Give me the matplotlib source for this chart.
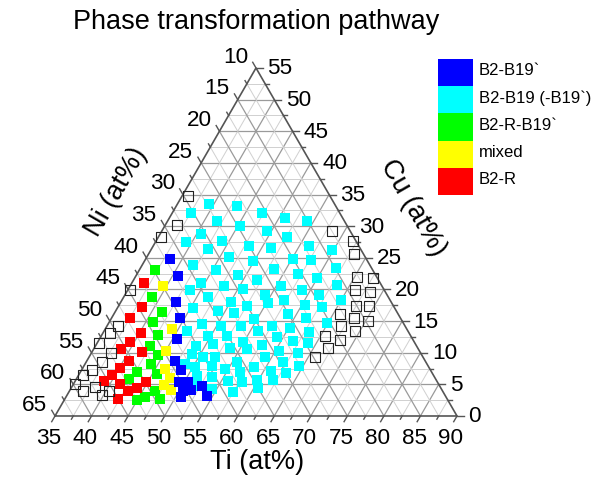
import numpy as np
import matplotlib
matplotlib.use('Agg')
import matplotlib.pyplot as plt
from matplotlib.patches import Rectangle

plt.rcParams['font.family'] = ['Liberation Sans', 'DejaVu Sans']

# ---------------- data (Ti at%, Cu at%; Ni = 100 - Ti - Cu) ----------------
blue_ti = [38.3, 40.8, 42.6, 44.4, 45.6, 47.1, 48.6, 49.3, 50.5, 50.5, 51.6, 52.8, 50.7, 54.2]
blue_cu = [24.8, 22.1, 18.0, 15.5, 12.2, 8.7, 7.3, 5.4, 5.4, 4.0, 4.1, 4.7, 3.0, 3.2]

cyan_ti = [39.3, 43.3, 37.6, 41.8, 45.3, 40.6, 44.0, 39.2, 48.1, 42.7,
           46.3, 41.9, 45.5, 48.9, 44.5, 47.9, 43.5, 50.7, 46.5, 50.1,
           45.3, 52.6, 49.0, 51.3, 47.9, 50.6, 46.4, 53.3, 49.6, 52.2,
           50.9, 53.6, 48.7, 56.0, 48.8, 50.6, 52.2, 55.6, 48.7, 50.3,
           52.5, 54.6, 56.8, 51.3, 53.4, 55.9, 57.9, 51.5, 54.3, 57.5,
           47.3, 50.8, 54.1, 49.4, 52.6, 51.3, 56.3, 59.8, 55.2, 57.7,
           49.8, 53.4, 57.0, 61.7, 59.9, 51.9, 55.7, 58.8, 63.2, 54.2,
           57.2, 61.6, 65.0, 55.2, 60.5, 62.9, 54.6, 57.6, 60.2, 61.6,
           64.9, 56.1, 59.1, 61.6, 63.1, 57.7, 60.5, 63.2, 63.9, 59.1,
           61.9, 64.4, 58.4, 61.0, 63.2, 59.8, 62.0, 60.6, 54.9, 58.8]
cyan_cu = [33.5, 33.2, 32.1, 30.8, 30.0, 28.8, 27.7, 27.5, 26.9, 26.4,
           25.1, 23.9, 23.1, 22.3, 21.0, 20.5, 19.9, 20.1, 18.8, 18.0,
           17.1, 17.4, 16.6, 16.3, 14.5, 14.2, 13.4, 14.2, 12.6, 12.6,
           11.4, 10.7, 11.1, 10.6, 9.8, 9.3, 9.3, 8.5, 8.2, 7.7,
           7.9, 7.4, 7.0, 6.3, 6.2, 5.5, 5.4, 4.7, 4.3, 3.8,
           32.1, 31.3, 30.8, 29.2, 28.3, 26.5, 26.9, 26.2, 24.8, 24.6,
           24.5, 23.2, 22.4, 23.4, 21.8, 21.5, 20.5, 19.9, 20.7, 19.1,
           18.3, 19.1, 18.3, 17.9, 17.5, 17.2, 15.3, 14.2, 13.9, 15.5,
           14.7, 13.4, 12.5, 11.9, 13.3, 11.2, 10.3, 10.0, 11.5, 9.3,
           8.5, 7.9, 7.7, 7.1, 6.8, 5.7, 5.7, 4.4, 11.7, 16.1]

green_ti = [37.1, 38.9, 41.4, 41.0, 42.7, 42.4, 44.3, 44.0, 45.6, 42.7, 42.2, 46.7, 45.0, 45.8, 48.0]
green_cu = [23.1, 18.8, 16.4, 14.9, 12.8, 11.1, 9.6, 8.2, 6.6, 7.0, 5.8, 4.0, 2.5, 3.0, 2.7]

yellow_ti = [39.5, 44.2, 45.0, 46.3, 47.7, 47.5, 48.8]
yellow_cu = [20.5, 13.7, 10.3, 7.4, 6.0, 4.9, 4.1]

red_ti = [36.7, 38.3, 37.5, 40.2, 39.4, 41.9, 38.7, 40.8, 40.1, 39.6, 39.0, 41.3, 44.8, 44.0, 43.0, 42.3]
red_cu = [21.0, 17.2, 15.5, 13.1, 11.7, 10.1, 10.6, 8.7, 7.6, 6.5, 5.5, 5.1, 5.4, 4.4, 4.0, 2.7]

open_ti = [35.8, 36.6, 35.4, 35.3, 36.5, 36.0, 35.3, 37.7, 37.2, 36.4, 35.6, 35.2, 36.8, 38.2, 39.8, 40.4,
           58.3, 61.9, 63.1, 65.3, 67.6, 66.1, 68.3, 67.5, 69.3, 65.9, 68.2, 70.3, 67.0, 69.3, 65.6, 68.0, 67.0, 65.9]
open_cu = [34.8, 30.2, 28.3, 19.9, 14.2, 13.1, 11.5, 10.0, 8.5, 7.3, 6.5, 5.1, 4.0, 4.6, 3.3, 4.0,
           29.2, 27.7, 25.6, 22.0, 21.8, 19.9, 19.6, 17.4, 17.4, 16.1, 15.5, 15.0, 14.2, 13.4, 12.6, 12.0, 10.7, 9.3]

ti_ticks = [35, 40, 45, 50, 55, 60, 65, 70, 75, 80, 85, 90]
ni_ticks = [10, 15, 20, 25, 30, 35, 40, 45, 50, 55, 60, 65]
cu_ticks = [0, 5, 10, 15, 20, 25, 30, 35, 40, 45, 50, 55]

legend_labels = ["B2-B19`", "B2-B19 (-B19`)", "B2-R-B19`", "mixed", "B2-R"]
legend_colors = ["#0000FF", "#00FFFF", "#00FF00", "#FFFF00", "#FF0000"]

title = "Phase transformation pathway"

# ---------------- figure ----------------
W, H = 600, 485
fig = plt.figure(figsize=(6, 4.85), dpi=100)
ax = fig.add_axes([0, 0, 1, 1])
ax.set_xlim(-7.525, 74.565)
ax.set_ylim(-9.307, 57.07)
ax.axis('off')

S3 = np.sqrt(3) / 2
TI0 = 35.0


def tern(ti, cu):
    ti = np.asarray(ti, float)
    cu = np.asarray(cu, float)
    return (ti - TI0) + cu / 2.0, cu * S3


def px(x, y):
    return x / W, 1 - y / H


MAJ = '#9a9a9a'
MIN = '#d0d0d0'
EDGE = '#555555'

# grid lines
for v in np.arange(37.5, 90, 2.5):
    major = abs(v % 5) < 1e-9
    x, y = tern([v, v], [0, 90 - v])
    ax.plot(x, y, color=MAJ if major else MIN, lw=0.9 if major else 0.7, zorder=1)
for c in np.arange(2.5, 55, 2.5):
    major = abs(c % 5) < 1e-9
    x, y = tern([35, 90 - c], [c, c])
    ax.plot(x, y, color=MAJ if major else MIN, lw=0.9 if major else 0.7, zorder=1)
for n in np.arange(12.5, 65, 2.5):
    major = abs(n % 5) < 1e-9
    x, y = tern([100 - n, 35], [0, 65 - n])
    ax.plot(x, y, color=MAJ if major else MIN, lw=0.9 if major else 0.7, zorder=1)

# triangle edges
x, y = tern([35, 90, 35, 35], [0, 0, 55, 0])
ax.plot(x, y, color=EDGE, lw=1.2, zorder=2, solid_joinstyle='miter')

# ticks
LMAJ, LMIN = 0.9, 0.5
for v in np.arange(35, 90.01, 2.5):
    L = LMAJ if abs(v % 5) < 1e-9 else LMIN
    x, y = tern([v, v], [0, -L])
    ax.plot(x, y, color=EDGE, lw=1.0, zorder=2)
for n in np.arange(10, 65.01, 2.5):
    L = LMAJ if abs(n % 5) < 1e-9 else LMIN
    x, y = tern([35, 35 - L], [65 - n, 65 - n + L])
    ax.plot(x, y, color=EDGE, lw=1.0, zorder=2)
for c in np.arange(0, 55.01, 2.5):
    L = LMAJ if abs(c % 5) < 1e-9 else LMIN
    x, y = tern([90 - c, 90 - c + L], [c, c])
    ax.plot(x, y, color=EDGE, lw=1.0, zorder=2)

# tick labels
TFS = 16.2
for v in ti_ticks:
    x, y = tern(v, 0)
    ax.text(x - 0.82, y - 1.45, str(v), ha='center', va='top', fontsize=TFS)
for n in ni_ticks:
    x, y = tern(35, 65 - n)
    ax.text(x - 2.8, y + 1.6, str(n), ha='center', va='center', fontsize=TFS)
for c in cu_ticks:
    x, y = tern(90 - c, c)
    ax.text(x + 1.55, y, str(c), ha='left', va='center', fontsize=TFS)

# data markers
MS = 52
x, y = tern(cyan_ti, cyan_cu)
ax.scatter(x, y, s=MS, marker='s', c=legend_colors[1], linewidths=0, zorder=3)
x, y = tern(green_ti, green_cu)
ax.scatter(x, y, s=MS, marker='s', c=legend_colors[2], linewidths=0, zorder=3)
x, y = tern(yellow_ti, yellow_cu)
ax.scatter(x, y, s=MS, marker='s', c=legend_colors[3], linewidths=0, zorder=3)
x, y = tern(red_ti, red_cu)
ax.scatter(x, y, s=MS, marker='s', c=legend_colors[4], linewidths=0, zorder=3)
x, y = tern(blue_ti, blue_cu)
ax.scatter(x, y, s=MS, marker='s', c=legend_colors[0], linewidths=0, zorder=3)
x, y = tern(open_ti, open_cu)
ax.scatter(x, y, s=54, marker='s', facecolors='none', edgecolors='#222222', linewidths=0.8, zorder=3)

# axis titles
AFS = 19.5
fig.text(*px(257, 462), "Ti (at%)", ha='center', va='center', fontsize=AFS)
fig.text(*px(116, 192), "Ni (at%)", ha='center', va='center', fontsize=AFS, rotation=60,
         rotation_mode='anchor')
fig.text(*px(413, 208), "Cu (at%)", ha='center', va='center', fontsize=AFS, rotation=-60,
         rotation_mode='anchor')
fig.text(*px(256, 22), title, ha='center', va='center', fontsize=19.5)

# legend
bx0, bx1 = 438, 473
by0, bh = 60, 27.2
for i, (lab, col) in enumerate(zip(legend_labels, legend_colors)):
    top = by0 + i * bh
    fx, fy = px(bx0, top + bh)
    fig.patches.append(Rectangle((fx, fy), (bx1 - bx0) / W, bh / H, transform=fig.transFigure,
                                 facecolor=col, edgecolor='none'))
    fig.text(*px(479, top + bh / 2 - 3), lab, ha='left', va='center', fontsize=12)

fig.savefig('out.png', dpi=100)
